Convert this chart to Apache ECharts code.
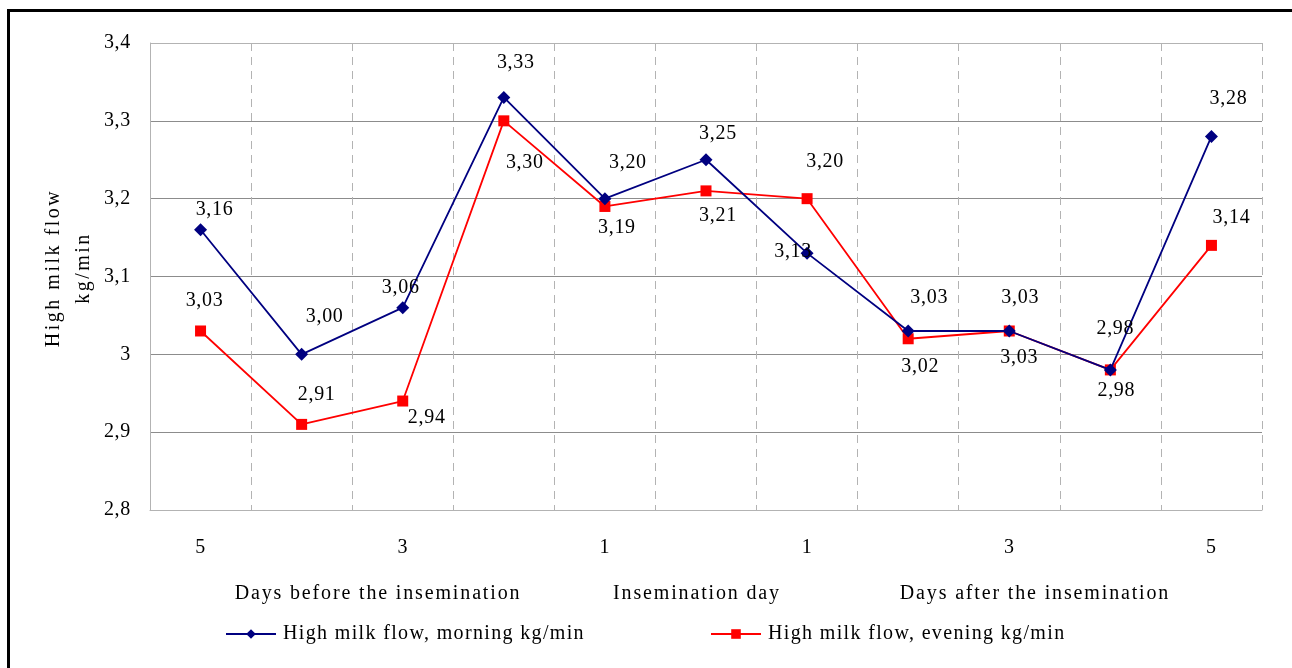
<!DOCTYPE html>
<html>
<head>
<meta charset="utf-8">
<script src="https://cdn.jsdelivr.net/npm/echarts@6/dist/echarts.min.js"></script>
<style>
  html, body { margin: 0; padding: 0; background: #fff; }
  #chart { width: 1292px; height: 668px; }
</style>
</head>
<body>
<div id="chart"></div>
<script>
// Day offsets relative to the insemination day (0)
const days = ['5', '4', '3', '2', '1', '0', '1', '2', '3', '4', '5'];
const morningFlow = [3.16, 3.00, 3.06, 3.33, 3.20, 3.25, 3.13, 3.03, 3.03, 2.98, 3.28];
const eveningFlow = [3.03, 2.91, 2.94, 3.30, 3.19, 3.21, 3.20, 3.02, 3.03, 2.98, 3.14];
const seriesNames = ['High milk flow, morning kg/min', 'High milk flow, evening kg/min'];
const periodLabels = ['Days before the insemination', 'Insemination day', 'Days after the insemination'];
const yAxisTitle = ['High milk flow', 'kg/min'];

// Label placement (pixel offsets from each marker centre)
const morningLabelOffsets = [[14,-20],[23,-38],[-2,-20],[12,-35],[23,-36],[12,-26],[-14,-1],[21,-33],[11,-33],[5,-41],[17,-38]];
const eveningLabelOffsets = [[4,-30],[15,-30],[24,17],[21,42],[12,21],[12,25],[18,-37],[12,28],[10,27],[6,21],[20,-28]];
const periodLabelX = [378, 697, 1035];

const FONT = 'Liberation Serif';
const fmt2 = v => v.toFixed(2).replace('.', ',');

// Widened letter spacing for the serif captions (canvas letterSpacing)
function spacingFor(txt) {
  if (/^[\d,]+$/.test(txt)) return 0.7;
  if (seriesNames.indexOf(txt) >= 0) return 1.35;
  if (yAxisTitle.indexOf(txt) >= 0) return 2.5;
  if (periodLabels.indexOf(txt) >= 0) return 1.85;
  return 0;
}
(function () {
  const proto = CanvasRenderingContext2D.prototype;
  const origFillText = proto.fillText;
  proto.fillText = function (text) {
    const s = spacingFor(String(text).trim());
    if (s && 'letterSpacing' in this) {
      const prev = this.letterSpacing;
      this.letterSpacing = s + 'px';
      const r = origFillText.apply(this, arguments);
      this.letterSpacing = prev;
      return r;
    }
    return origFillText.apply(this, arguments);
  };
})();

function withLabels(values, offsets) {
  return values.map((v, i) => ({
    value: v,
    label: { offset: offsets[i] }
  }));
}

const labelStyle = {
  show: true,
  position: 'inside',
  align: 'center',
  verticalAlign: 'middle',
  fontFamily: FONT,
  fontSize: 20,
  color: '#000',
  formatter: p => fmt2(p.value)
};

const legendBase = {
  top: 624,
  padding: 0,
  itemWidth: 50,
  itemHeight: 12,
  textStyle: { fontFamily: FONT, fontSize: 20, color: '#000', padding: [0, 0, 0, 2] }
};

const chart = echarts.init(document.getElementById('chart'), null, { renderer: 'canvas' });

chart.setOption({
  animation: false,
  backgroundColor: '#fff',
  textStyle: { fontFamily: FONT },
  grid: { left: 150, right: 30, top: 43, bottom: 158, containLabel: false },
  xAxis: {
    type: 'category',
    data: days,
    boundaryGap: true,
    axisLine: { show: true, lineStyle: { color: '#b3b3b3', width: 1 } },
    axisTick: { show: false },
    axisLabel: { interval: 1, margin: 28, fontFamily: FONT, fontSize: 20, color: '#000' },
    splitLine: { show: true, interval: 0, lineStyle: { color: '#b3b3b3', type: [8, 6], width: 1 } }
  },
  yAxis: {
    type: 'value',
    min: 2.8,
    max: 3.4,
    interval: 0.1,
    axisLine: { show: true, lineStyle: { color: '#b3b3b3', width: 1 } },
    axisTick: { show: false },
    axisLabel: {
      margin: 19,
      fontFamily: FONT,
      fontSize: 20,
      color: '#000',
      formatter: v => String(Math.round(v * 10) / 10).replace('.', ',')
    },
    splitLine: {
      show: true,
      lineStyle: { color: ['#b3b3b3', '#8c8c8c', '#8c8c8c', '#8c8c8c', '#8c8c8c', '#8c8c8c', '#b3b3b3'], width: 1 }
    }
  },
  legend: [
    Object.assign({ left: 225, data: [seriesNames[0]] }, legendBase),
    Object.assign({ left: 710, data: [seriesNames[1]] }, legendBase)
  ],
  series: [
    {
      name: seriesNames[0],
      type: 'line',
      data: withLabels(morningFlow, morningLabelOffsets),
      symbol: 'diamond',
      symbolSize: 13,
      lineStyle: { color: '#000080', width: 1.8 },
      itemStyle: { color: '#000080' },
      label: labelStyle,
      z: 3
    },
    {
      name: seriesNames[1],
      type: 'line',
      data: withLabels(eveningFlow, eveningLabelOffsets),
      symbol: 'rect',
      symbolSize: 11,
      lineStyle: { color: '#ff0000', width: 1.8 },
      itemStyle: { color: '#ff0000' },
      label: labelStyle,
      z: 2
    }
  ],
  graphic: [
    {
      type: 'rect',
      x: 8.5,
      y: 10.5,
      shape: { width: 1320, height: 700 },
      style: { fill: 'none', stroke: '#000', lineWidth: 3 },
      silent: true
    },
    {
      type: 'text',
      x: 69,
      y: 268,
      rotation: Math.PI / 2,
      style: {
        text: yAxisTitle.join('\n'),
        fontFamily: FONT,
        fontSize: 20,
        lineHeight: 30,
        fill: '#000',
        align: 'center',
        verticalAlign: 'middle'
      },
      silent: true
    }
  ].concat(periodLabels.map((t, i) => ({
    type: 'text',
    x: periodLabelX[i],
    y: 594,
    style: {
      text: t,
      fontFamily: FONT,
      fontSize: 20,
      fill: '#000',
      align: 'center',
      verticalAlign: 'middle'
    },
    silent: true
  })))
});
</script>
</body>
</html>
